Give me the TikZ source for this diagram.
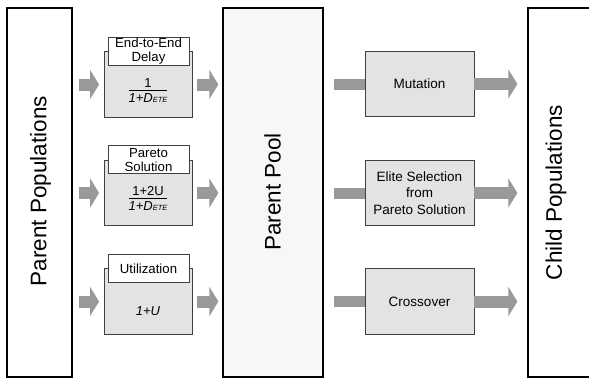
\documentclass[tikz,border=0pt]{standalone}
\usepackage{fontspec}
\setmainfont{Liberation Sans}
\usetikzlibrary{arrows.meta,calc}

\newcommand{\dete}{\textit{1+D}\raisebox{-0.3pt}{\fontsize{7.5}{7.5}\selectfont\textit{ETE}}}

\begin{document}
\begin{tikzpicture}[x=1pt,y=-1pt,
  bigbox/.style={draw=black,line width=1.3pt,minimum width=65pt,minimum height=369pt,inner sep=0pt},
  greybox/.style={draw=black!75,line width=0.9pt,fill=black!11,minimum width=88pt,minimum height=65.5pt,inner sep=0pt},
  tagbox/.style={draw=black!75,line width=0.9pt,fill=white,minimum width=81pt,minimum height=28pt,inner sep=0pt,
    align=center,font=\fontsize{13.2}{14.3}\selectfont},
  opbox/.style={draw=black!75,line width=0.9pt,fill=black!11,minimum width=109pt,minimum height=65.5pt,inner sep=0pt,
    align=center,font=\fontsize{13.5}{16.6}\selectfont},
  bigtext/.style={rotate=90,font=\fontsize{22.5}{24}\selectfont},
  fatarrow/.style={draw=black!40,line width=12pt,line cap=butt,-{Triangle[width=29pt,length=9pt]}},
  fatshaft/.style={draw=black!40,line width=11pt,line cap=butt},
  frac/.style={font=\fontsize{13}{14}\selectfont}
]
\clip (0,0) rectangle (589,381);
\fill[white] (0,0) rectangle (589,381);

% the three tall columns
\node[bigbox,fill=white] (parents) at (39.5,192.5) {};
\node[bigtext] at (40.5,191) {Parent Populations};
\node[bigbox,fill=black!3,minimum width=100pt] (pool) at (273,192.5) {};
\node[bigtext] at (272.5,192) {Parent Pool};
\node[bigbox,fill=white,minimum width=72pt] (child) at (564,192.5) {};
\node[bigtext] at (556,192.5) {Child Populations};

% fitness boxes
\node[greybox] (f1) at (148,84.5) {};
\node[greybox] (f2) at (148,193) {};
\node[greybox] (f3) at (148,301.5) {};
\node[tagbox] (t1) at ([xshift=0.5pt]f1.north) {End-to-End\\Delay};
\node[tagbox] (t2) at ([xshift=0.5pt]f2.north) {Pareto\\Solution};
\node[tagbox] (t3) at ([xshift=0.5pt]f3.north) {Utilization};

\node[frac] (q1) at (148,92) {\begin{tabular}{@{}c@{}}1\\[-1.5pt]\hline\rule{0pt}{12pt}\dete\end{tabular}};
\node[frac] (q2) at (148,200) {\begin{tabular}{@{}c@{}}1+2U\\[-1.5pt]\hline\rule{0pt}{12pt}\dete\end{tabular}};
\node[frac] (q3) at (148,311) {\textit{1+U}};

% operator boxes
\node[opbox] (m1) at (419.5,84) {Mutation};
\node[opbox] (m2) at (419.5,193) {Elite Selection\\from\\Pareto Solution};
\node[opbox] (m3) at (419.5,301.5) {Crossover};

% connectors
\foreach \i in {1,2,3}{
  \draw[fatarrow] ([xshift=6pt]parents.east |- f\i) -- ([xshift=-4.5pt]f\i.west);
  \draw[fatarrow] ([xshift=5pt]f\i.east) -- ([xshift=-4pt]pool.west |- f\i);
  \draw[fatshaft] ([xshift=10pt]pool.east |- m\i) -- (m\i.west);
  \draw[fatarrow] (m\i.east) -- ([xshift=-10pt]child.west |- m\i);
}
\end{tikzpicture}
\end{document}
